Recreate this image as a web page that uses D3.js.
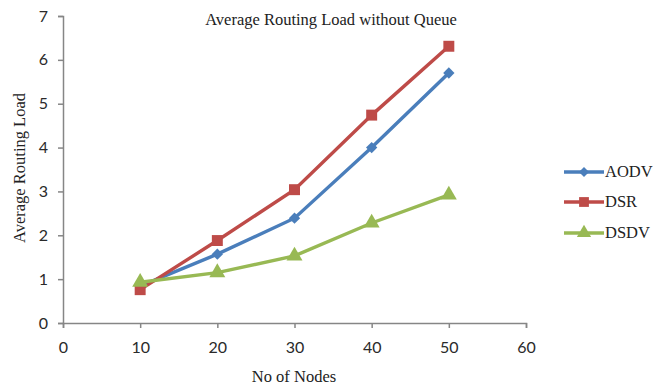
<!DOCTYPE html>
<html><head><meta charset="utf-8">
<script src="https://cdn.jsdelivr.net/npm/d3@7"></script>
<style>body{margin:0;background:#fff}</style>
</head><body>
<svg id="c" width="654" height="385"></svg>
<script>
const nodes = [10, 20, 30, 40, 50];
const aodv = [0.84, 1.57, 2.39, 4.0, 5.7];
const dsr = [0.76, 1.88, 3.04, 4.74, 6.31];
const dsdv = [0.93, 1.15, 1.53, 2.28, 2.92];
const seriesNames = ["AODV", "DSR", "DSDV"];
const seriesColors = ["#4a7ebb", "#be4b48", "#98b954"];
const xTicks = [0, 10, 20, 30, 40, 50, 60];
const yTicks = [0, 1, 2, 3, 4, 5, 6, 7];

const svg = d3.select("#c");
const x = d3.scaleLinear().domain([0, 60]).range([63, 526]);
const y = d3.scaleLinear().domain([0, 7]).range([323, 16]);
const axisColor = "#868686";
const serif = "'Liberation Serif', 'Times New Roman', serif";

const ya = svg.append("g").attr("transform", "translate(63,0)")
  .call(d3.axisLeft(y).tickValues(yTicks).tickFormat(d3.format("d")).tickSize(5).tickPadding(10));
const xa = svg.append("g").attr("transform", "translate(0,323)")
  .call(d3.axisBottom(x).tickValues(xTicks).tickFormat(d3.format("d")).tickSize(5).tickPadding(14));
[ya, xa].forEach(g => {
  g.select(".domain").attr("stroke", axisColor).attr("stroke-width", 1.5);
  g.selectAll(".tick line").attr("stroke", axisColor).attr("stroke-width", 1.5);
  g.selectAll("text").attr("font-family", "Lato, 'Open Sans', sans-serif")
    .attr("font-size", 16).attr("fill", "#2a2a2a");
});

const data = [aodv, dsr, dsdv];
const line = d3.line().x((d, i) => x(nodes[i])).y(d => y(d));
const sym = [d3.symbolSquare, d3.symbolSquare, d3.symbolTriangle];
const symRot = [45, 0, 0];
const symSize = [64, 120, 110];

data.forEach((vals, k) => {
  svg.append("path").datum(vals).attr("d", line).attr("fill", "none")
    .attr("stroke", seriesColors[k]).attr("stroke-width", 3.4);
});
data.forEach((vals, k) => {
  svg.append("g").selectAll("path").data(vals).join("path")
    .attr("transform", (d, i) => `translate(${x(nodes[i])},${y(d)}) rotate(${symRot[k]})`)
    .attr("d", d3.symbol().type(sym[k]).size(symSize[k]))
    .attr("fill", seriesColors[k]);
});

svg.append("text").attr("x", 331).attr("y", 25).attr("text-anchor", "middle")
  .attr("font-family", serif).attr("font-size", 16.5)
  .attr("fill", "#222").text("Average Routing Load without Queue");
svg.append("text").attr("transform", "translate(25,168) rotate(-90)").attr("text-anchor", "middle")
  .attr("font-family", serif).attr("font-size", 16.5)
  .attr("fill", "#222").text("Average Routing Load");
svg.append("text").attr("x", 294).attr("y", 382).attr("text-anchor", "middle")
  .attr("font-family", serif).attr("font-size", 16.5)
  .attr("fill", "#222").text("No of Nodes");

const ly = [172, 202, 233];
seriesNames.forEach((n, k) => {
  const g = svg.append("g");
  g.append("line").attr("x1", 564).attr("x2", 604).attr("y1", ly[k]).attr("y2", ly[k])
    .attr("stroke", seriesColors[k]).attr("stroke-width", 3.4);
  g.append("path").attr("transform", `translate(584,${ly[k]}) rotate(${symRot[k]})`)
    .attr("d", d3.symbol().type(sym[k]).size(symSize[k] * 0.8)).attr("fill", seriesColors[k]);
  g.append("text").attr("x", 605).attr("y", ly[k] + 5)
    .attr("font-family", serif).attr("font-size", 16.5)
    .attr("fill", "#222").text(n);
});
</script>
</body></html>
